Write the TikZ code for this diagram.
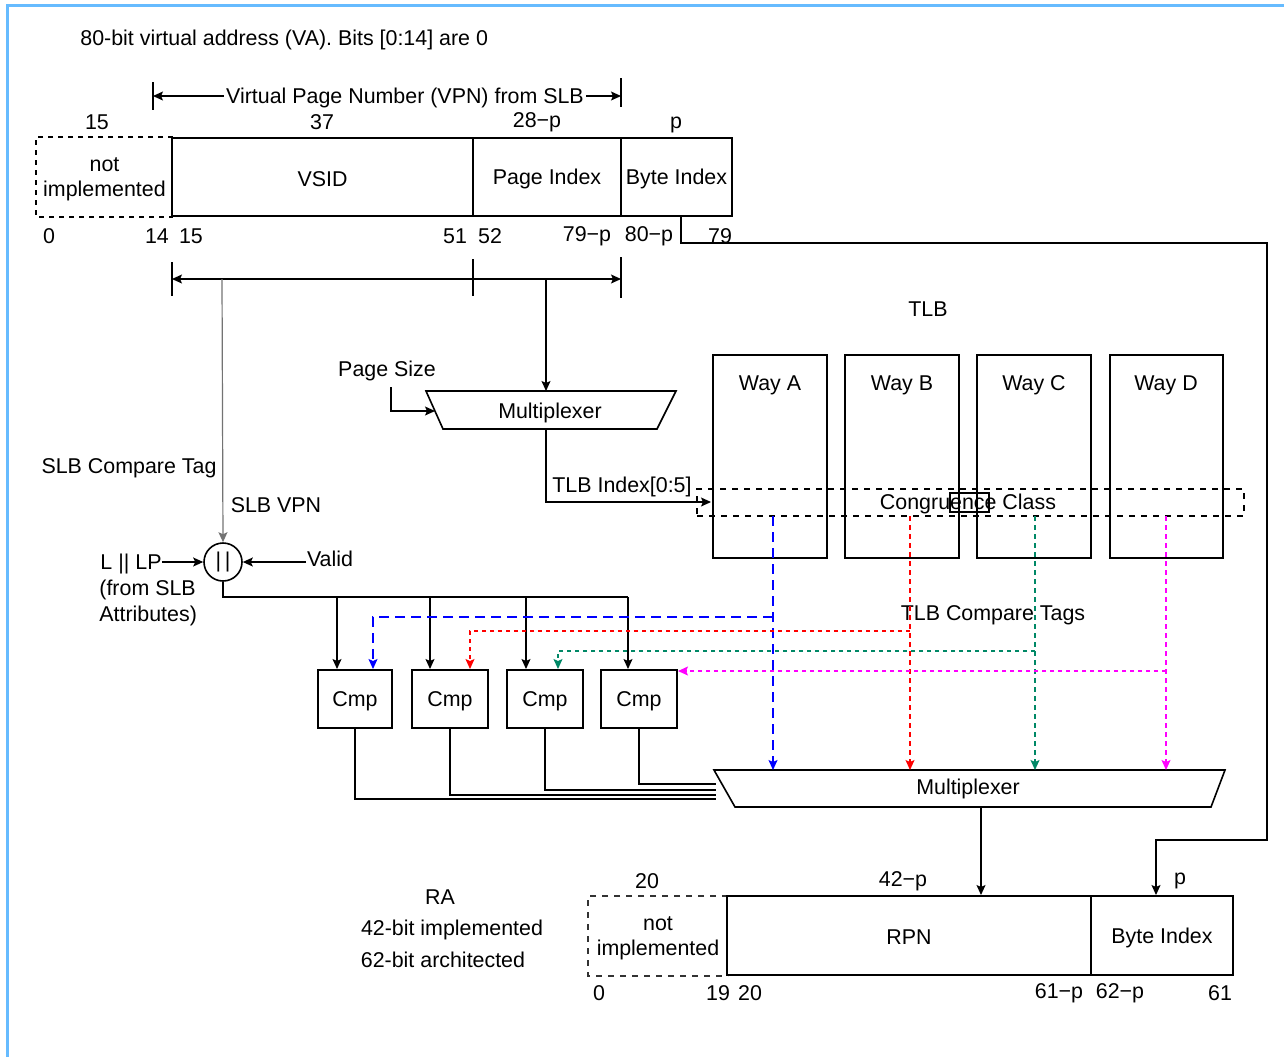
\documentclass[tikz,border=0pt]{standalone}
\usepackage{fontspec}
\setmainfont{Liberation Sans}
\usetikzlibrary{arrows.meta,fit,calc}
\definecolor{frameblue}{RGB}{102,187,255}
\definecolor{tagblue}{RGB}{0,0,255}
\definecolor{tagred}{RGB}{255,0,0}
\definecolor{taggreen}{RGB}{0,136,102}
\definecolor{tagmag}{RGB}{255,0,255}
\begin{document}
\begin{tikzpicture}[x=0.5pt,y=-0.5pt,
  font=\fontsize{10.7}{12.6}\selectfont,
  box/.style={draw,line width=1pt,inner sep=0pt},
  boxtext/.style={label={[inner sep=0pt,align=center,yshift=-1pt]center:#1}},
  conn/.style={line width=0.6pt},
  tip/.style={-{Stealth[length=5pt,width=4.5pt,inset=1pt]}},
  arr/.style={conn,tip},
  lbl/.style={inner sep=0pt,align=center,yshift=-1pt},
  dashA/.style={dash pattern=on 5pt off 3pt},
  dashB/.style={dash pattern=on 2pt off 2pt},
  dashC/.style={dash pattern=on 2.5pt off 2pt},
]
\useasboundingbox (0,0) rectangle (1284,1057);
\draw[frameblue, line width=1.5pt] (7,1057) -- (7,5) -- (1284,5);

% ---------- title
\node[lbl,anchor=west] (title) at (80,38) {80-bit virtual address (VA). Bits [0:14] are 0};

% ---------- VPN bracket
\coordinate (vpnL) at (153,96);
\coordinate (vpnR) at (621,96);
\draw[conn] (153,82) -- (153,110);
\draw[conn] (621,78) -- (621,107);
\node[lbl,fill=white,inner xsep=1pt] (vpn) at (405,96) {Virtual Page Number (VPN) from SLB};
\draw[arr] (vpn.west |- vpnL) -- (vpnL);
\draw[arr] (vpn.east |- vpnR) -- (vpnR);

% ---------- top register widths
\node[lbl] (w15) at (97,120) {15};
\node[lbl] (w37) at (322,120) {37};
\node[lbl] (w28) at (537,120) {28−p};
\node[lbl] (wp)  at (676,123) {p};

% ---------- top register
\node[box,draw=none,fit={(37,138)(172,216)},boxtext={not\\implemented}] (ni) {};
\draw[line width=1.3pt,dash pattern=on 2.5pt off 2.5pt] (ni.north east) -- (ni.north west) -- (ni.south west) -- (ni.south east);
\node[box,fit={(172,138)(473,216)},boxtext={VSID}] (vsid) {};
\node[box,fit={(473,138)(621,216)},boxtext={Page Index}] (pidx) {};
\node[box,fit={(621,138)(732,216)},boxtext={Byte Index}] (bidx) {};

% ---------- top register bit numbers
\node[lbl] (b0)  at (49,234) {0};
\node[lbl] (b14) at (157,234) {14};
\node[lbl] (b15) at (191,234) {15};
\node[lbl] (b51) at (455,234) {51};
\node[lbl] (b52) at (490,234) {52};
\node[lbl] (b79p) at (587,234) {79−p};
\node[lbl] (b80p) at (649,234) {80−p};
\node[lbl] (b79) at (720,234) {79};

% ---------- second bracket
\coordinate (brL) at (172,279);
\coordinate (brR) at (621,279);
\coordinate (brM) at (473,279);
\draw[line width=1pt] (172,262) -- (172,296);
\draw[line width=1pt] (473,259) -- (473,296);
\draw[line width=1pt] (621,257) -- (621,298);
\draw[conn,{Stealth[length=5pt,width=4.5pt,inset=1pt]}-{Stealth[length=5pt,width=4.5pt,inset=1pt]}] (brL) -- (brR);

% ---------- page-size multiplexer
\coordinate (mAtl) at (426,391);
\coordinate (mAtr) at (676,391);
\coordinate (mAbr) at (657,429);
\coordinate (mAbl) at (443,429);
\draw[conn,line width=0.8pt] (mAtl) -- (mAtr) -- (mAbr) -- (mAbl) -- cycle;
\node[lbl] (muxA) at (550,411) {Multiplexer};
\coordinate (mAin) at (546,391);
\coordinate (mAleft) at (435,411);
\coordinate (mAout) at (546,429);
\coordinate (pgsrc) at (546,279);
\draw[arr] (pgsrc) -- (mAin);

\node[lbl] (psize) at (387,369) {Page Size};
\draw[arr] ([xshift=2pt,yshift=-3pt]psize.south) |- (mAleft);

% ---------- TLB
\node[lbl] (tlb) at (928,307) {TLB};
\node[box,fit={(713,355)(827,558)}] (wayA) {};
\node[box,fit={(845,355)(959,558)}] (wayB) {};
\node[box,fit={(977,355)(1091,558)}] (wayC) {};
\node[box,fit={(1110,355)(1223,558)}] (wayD) {};
\node[lbl] (wayAl) at (770,383) {Way A};
\node[lbl] (wayBl) at (902,383) {Way B};
\node[lbl] (wayCl) at (1034,383) {Way C};
\node[lbl] (wayDl) at (1166,383) {Way D};
\node[draw,line width=1.2pt,dash pattern=on 3pt off 3pt,inner sep=0pt,fit={(697,489)(1244,516)}] (cc) {};
\node[lbl] (cclbl) at (968,502) {Congruence Class};
\node[box,fit={(950,493)(989,512)}] (ccmark) {};

\coordinate (tlbidx) at (711,502);
\draw[arr] (mAout) |- (tlbidx);
\node[lbl] (tlbidxl) at (622,485) {TLB Index[0:5]};

% ---------- SLB compare path
\node[lbl] (slbtag) at (129,466) {SLB Compare Tag};
\node[lbl] (slbvpn) at (276,503) {SLB VPN};
\node[draw,circle,line width=0.8pt,minimum size=19pt,inner sep=0pt] (orop) at (223,562) {|\,|};
\coordinate (slbsrc) at (222,279);
\draw[arr,black!55] (slbsrc) -- (orop.north);
\node[lbl] (llp) at (131,562) {L || LP};
\node[lbl,anchor=west] (fromslb) at (99,588) {(from SLB};
\node[lbl,anchor=west] (attrs) at (99,614) {Attributes)};
\draw[arr] (llp.east |- orop) -- (orop.west);
\node[lbl] (valid) at (330,557) {Valid};
\coordinate (validsrc) at (306,562);
\draw[arr] (validsrc) -- (orop.east);

% ---------- compare boxes
\node[box,fit={(318,670)(392,728)},boxtext={Cmp}] (cmp1) {};
\node[box,fit={(412,670)(488,728)},boxtext={Cmp}] (cmp2) {};
\node[box,fit={(507,670)(583,728)},boxtext={Cmp}] (cmp3) {};
\node[box,fit={(601,670)(677,728)},boxtext={Cmp}] (cmp4) {};

\coordinate (bus) at (628,597);
\draw[conn] (orop.south) |- (bus);
\coordinate (d1) at (337,597);
\coordinate (d2) at (430,597);
\coordinate (d3) at (526,597);
\draw[arr] (d1) -- (cmp1.north -| d1);
\draw[arr] (d2) -- (cmp2.north -| d2);
\draw[arr] (d3) -- (cmp3.north -| d3);
\draw[arr] (bus) -- (cmp4.north -| bus);

% ---------- bottom multiplexer
\coordinate (mBtl) at (714,770);
\coordinate (mBtr) at (1225,770);
\coordinate (mBbr) at (1211,807);
\coordinate (mBbl) at (735,807);
\draw[conn,line width=0.8pt] (mBtl) -- (mBtr) -- (mBbr) -- (mBbl) -- cycle;
\node[lbl] (muxB) at (968,787) {Multiplexer};

% ---------- TLB compare tags (coloured)
\node[lbl] (tags) at (993,613) {TLB Compare Tags};
\coordinate (tA) at (773,516);
\coordinate (tB) at (910,516);
\coordinate (tC) at (1035,516);
\coordinate (tD) at (1166,516);
\draw[arr,tagblue,dashA] (tA) -- (773,770);
\draw[arr,tagred,dashC] (tB) -- (910,770);
\draw[arr,taggreen,dashC] (tC) -- (1035,770);
\draw[arr,tagmag,dashC] (tD) -- (1166,770);
\draw[arr,tagblue,dashA] (773,617) -- (373,617) -- (cmp1.north -| 373,0);
\draw[arr,tagred,dashB] (910,631) -- (470,631) -- (cmp2.north -| 470,0);
\draw[arr,taggreen,dashB] (1035,651) -- (558,651) -- (cmp3.north -| 558,0);
\draw[arr,tagmag,dashB] (1166,671) -- (cmp4.east |- 0,671);

% ---------- compare outputs to multiplexer
\coordinate (mBin1) at (716,799);
\coordinate (mBin2) at (716,795);
\coordinate (mBin3) at (716,790);
\coordinate (mBin4) at (716,784);
\draw[line width=1pt] (cmp1.south) |- (mBin1);
\draw[line width=1pt] (cmp2.south) |- (mBin2);
\draw[line width=1pt] (cmp3.south) |- (mBin3);
\draw[line width=1pt] (cmp4.south) |- (mBin4);

% ---------- RA register
\node[lbl] (ra) at (440,895) {RA};
\node[lbl] (ra42) at (452,928) {42-bit implemented};
\node[lbl] (ra62) at (443,958) {62-bit architected};
\node[lbl] (r20w) at (647,879) {20};
\node[lbl] (r42w) at (903,879) {42−p};
\node[lbl] (rpw) at (1180,879) {p};

\node[box,draw=none,fit={(589,897)(727,975)},boxtext={not\\implemented}] (rni) {};
\draw[line width=0.6pt,black!80,dash pattern=on 3pt off 3pt] (rni.north east) -- (rni.north west) -- (rni.south west) -- (rni.south east);
\node[box,fit={(727,896)(1091,975)},boxtext={RPN}] (rpn) {};
\node[box,fit={(1091,896)(1233,975)},boxtext={Byte Index}] (rbidx) {};

\node[lbl] (r0) at (599,991) {0};
\node[lbl] (r19) at (718,991) {19};
\node[lbl] (r20) at (750,991) {20};
\node[lbl] (r61p) at (1059,991) {61−p};
\node[lbl] (r62p) at (1120,991) {62−p};
\node[lbl] (r61) at (1220,991) {61};

% ---------- connections to RA
\coordinate (mBout) at (981,807);
\draw[arr] (mBout) -- (rpn.north -| mBout);
\coordinate (biout) at (681,216);
\coordinate (biin) at (1156,840);
\draw[arr] (biout) -- (681,243) -- (1267,243) -- (1267,840) -- (biin) -- (rbidx.north -| biin);
\end{tikzpicture}
\end{document}
